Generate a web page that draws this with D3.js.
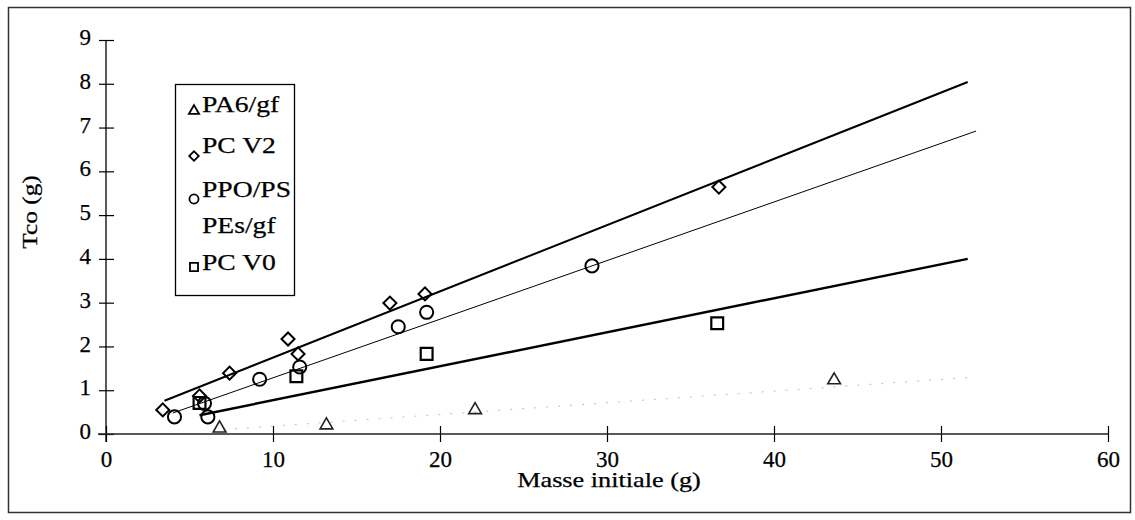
<!DOCTYPE html>
<html>
<head>
<meta charset="utf-8">
<script src="https://cdn.jsdelivr.net/npm/d3@7/dist/d3.min.js"></script>
<style>
  html, body { margin: 0; padding: 0; background: #fff; }
  svg { display: block; }
  text { font-family: "Liberation Serif", "Times New Roman", serif; fill: #000; stroke: #000; stroke-width: 0.25px; }
</style>
</head>
<body>
<svg id="chart" width="1135" height="520"></svg>
<script>
// ---- Data ----
const legendLabels = ["PA6/gf", "PC V2", "PPO/PS", "PEs/gf", "PC V0"];
const xTicks = [0, 10, 20, 30, 40, 50, 60];
const yTicks = [0, 1, 2, 3, 4, 5, 6, 7, 8, 9];

const pa6X = [6.8, 13.2, 22.1, 43.6];
const pa6Y = [0.13, 0.2, 0.55, 1.23];

const pcv2X = [3.4, 5.6, 7.4, 10.9, 11.5, 17.0, 19.1, 36.7];
const pcv2Y = [0.55, 0.87, 1.39, 2.17, 1.83, 2.99, 3.2, 5.64];

const ppoX = [4.1, 5.9, 6.1, 9.2, 11.6, 17.5, 19.2, 29.1];
const ppoY = [0.39, 0.7, 0.39, 1.25, 1.53, 2.45, 2.78, 3.84];

const pcv0X = [5.6, 11.4, 19.2, 36.6];
const pcv0Y = [0.71, 1.32, 1.83, 2.53];

// trend lines (end points)
const fitPcv2X = [3.5, 51.6], fitPcv2Y = [0.76, 8.04];
const fitPpoX = [4.0, 52.1], fitPpoY = [0.48, 6.92];
const fitPcv0X = [5.6, 51.6], fitPcv0Y = [0.43, 4.0];
const fitPa6X = [7.0, 52.0], fitPa6Y = [0.1, 1.3];

// ---- Drawing ----
const svg = d3.select("#chart");
const x = d3.scaleLinear().domain([0, 60]).range([106, 1108]);
const y = d3.scaleLinear().domain([0, 9]).range([434, 40]);

function stretch(sel, f) {
  sel.each(function () {
    const len = this.getComputedTextLength();
    d3.select(this).attr("textLength", len * f).attr("lengthAdjust", "spacingAndGlyphs");
  });
}

// outer frame
svg.append("rect").attr("x", 8.5).attr("y", 7.5).attr("width", 1122).attr("height", 505)
  .attr("fill", "none").attr("stroke", "#333").attr("stroke-width", 1.5);

// axes
const yAxis = svg.append("g").attr("transform", `translate(${x(0)},0)`)
  .call(d3.axisLeft(y).tickValues(yTicks).tickFormat(d3.format("d")).tickSize(0).tickPadding(15));
yAxis.select(".domain").remove();
yAxis.selectAll(".tick line").attr("x1", -7).attr("x2", 8).attr("stroke", "#000").attr("stroke-width", 1.2);
yAxis.selectAll(".tick text").attr("font-size", 23).attr("font-family", "Liberation Serif")
  .attr("dy", "0.2em");
svg.append("line").attr("x1", x(0)).attr("x2", x(0)).attr("y1", y(9)).attr("y2", 442)
  .attr("stroke", "#000").attr("stroke-width", 1.3);

const xAxis = svg.append("g").attr("transform", `translate(0,${y(0)})`)
  .call(d3.axisBottom(x).tickValues(xTicks).tickFormat(d3.format("d")).tickSize(0).tickPadding(17));
xAxis.select(".domain").remove();
xAxis.selectAll(".tick line").attr("y1", -8).attr("y2", 8).attr("stroke", "#000").attr("stroke-width", 1.2);
xAxis.selectAll(".tick text").attr("font-size", 23).attr("font-family", "Liberation Serif");
svg.append("line").attr("x1", 98).attr("x2", x(60)).attr("y1", y(0)).attr("y2", y(0))
  .attr("stroke", "#222").attr("stroke-width", 1.4);

// axis titles
svg.append("text").attr("x", 609).attr("y", 487).attr("text-anchor", "middle")
  .attr("font-size", 21).text("Masse initiale (g)").call(stretch, 1.25);
svg.append("text").attr("transform", "translate(37,212) rotate(-90)").attr("text-anchor", "middle")
  .attr("font-size", 22).text("Tco (g)").call(stretch, 1.15);

// trend lines
const line = d3.line().x(d => x(d[0])).y(d => y(d[1]));
svg.append("path").datum(d3.zip(fitPa6X, fitPa6Y)).attr("d", line)
  .attr("fill", "none").attr("stroke", "#c8c8c8").attr("stroke-width", 1.2).attr("stroke-dasharray", "2,10");
svg.append("path").datum(d3.zip(fitPcv2X, fitPcv2Y)).attr("d", line)
  .attr("fill", "none").attr("stroke", "#000").attr("stroke-width", 2);
svg.append("path").datum(d3.zip(fitPpoX, fitPpoY)).attr("d", line)
  .attr("fill", "none").attr("stroke", "#000").attr("stroke-width", 1);
svg.append("path").datum(d3.zip(fitPcv0X, fitPcv0Y)).attr("d", line)
  .attr("fill", "none").attr("stroke", "#000").attr("stroke-width", 2.5);

// markers
const sym = {
  tri: d3.symbol().type(d3.symbolTriangle),
  dia: d3.symbol().type(d3.symbolSquare),
  cir: d3.symbol().type(d3.symbolCircle),
  sq: d3.symbol().type(d3.symbolSquare)
};
function drawMarkers(xs, ys, kind, size, rot, sw, col) {
  svg.append("g").selectAll("path").data(d3.zip(xs, ys)).join("path")
    .attr("d", sym[kind].size(size))
    .attr("transform", d => `translate(${x(d[0])},${y(d[1])}) rotate(${rot})`)
    .attr("fill", "none").attr("stroke", col || "#000").attr("stroke-width", sw);
}
drawMarkers(pa6X, pa6Y, "tri", 70, 0, 1.6, "#222");
drawMarkers(pcv0X, pcv0Y, "sq", 140, 0, 2.2);
drawMarkers(ppoX, ppoY, "cir", 135, 0, 2);
drawMarkers(pcv2X, pcv2Y, "dia", 85, 45, 2);

// legend
svg.append("rect").attr("x", 175.5).attr("y", 84.5).attr("width", 119).attr("height", 211)
  .attr("fill", "#fff").attr("stroke", "#000").attr("stroke-width", 1.3);
const legBase = [112, 153, 197, 233, 270];
const legKinds = ["tri", "dia", "cir", null, "sq"];
const legSizes = [45, 45, 65, 0, 65];
const legRot = [0, 45, 0, 0, 0];
const legMarkY = [111, 156, 199, 0, 267];
legendLabels.forEach((lab, i) => {
  svg.append("text").attr("x", 202).attr("y", legBase[i]).attr("font-size", 23)
    .text(lab).call(stretch, 1.2);
  if (legKinds[i]) {
    svg.append("path").attr("d", sym[legKinds[i]].size(legSizes[i])())
      .attr("transform", `translate(194,${legMarkY[i]}) rotate(${legRot[i]})`)
      .attr("fill", "none").attr("stroke", "#000").attr("stroke-width", 1.8);
  }
});
</script>
</body>
</html>
